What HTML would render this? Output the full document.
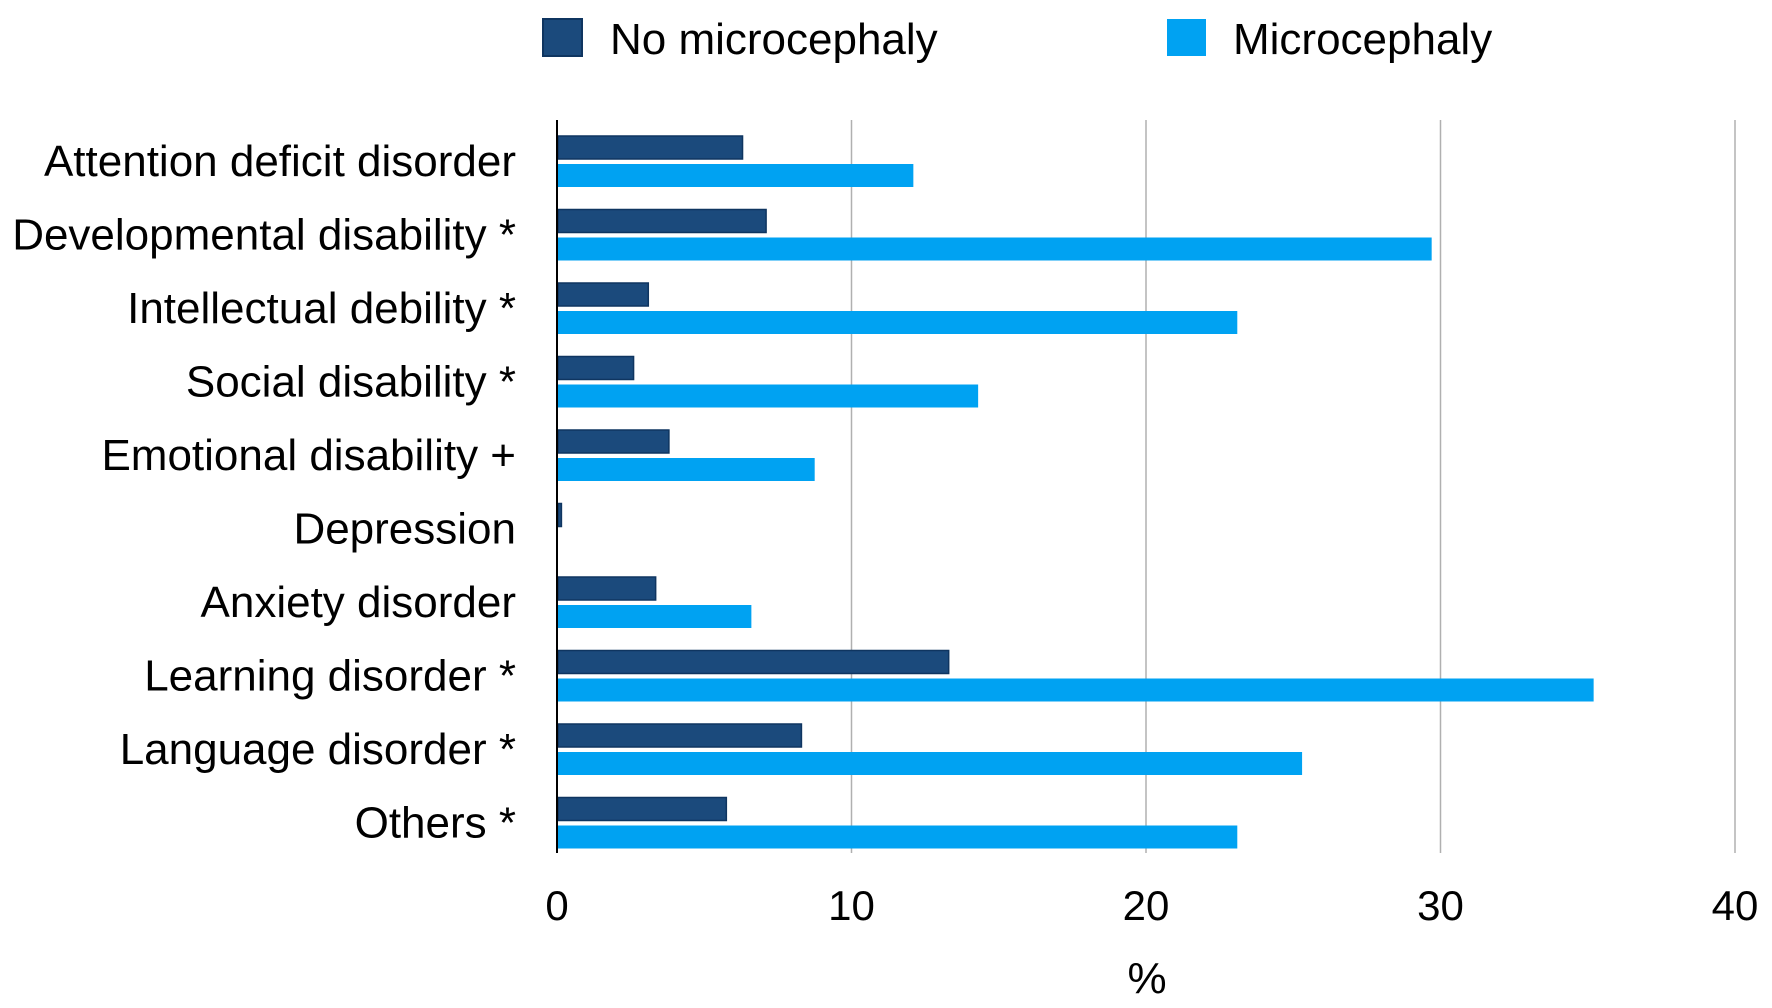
<!DOCTYPE html>
<html><head><meta charset="utf-8"><style>
html,body{margin:0;padding:0;background:#fff;}
svg{display:block;font-family:"Liberation Sans",Arial,sans-serif;}
</style></head><body>
<svg id="chart" width="1772" height="1008" viewBox="0 0 1772 1008">
<g id="grid"></g>
<g id="bars"></g>
<g id="cats"></g>
<g id="ticks"></g>
<line x1="557" y1="120" x2="557" y2="853" stroke="#000" stroke-width="2"/>
<text x="1147" y="993" font-size="44" text-anchor="middle">%</text>
<g>
<g>
<rect x="543" y="19" width="39" height="37" fill="#1b4a7c" stroke="#0f3560" stroke-width="2"/>
<text x="610" y="54" font-size="44">No microcephaly</text>
</g>
<g>
<rect x="1167" y="19" width="39" height="37" fill="#00a2f2"/>
<text x="1233" y="54" font-size="44">Microcephaly</text>
</g>
</g>
</svg>
<script>
const categories = ["Attention deficit disorder","Developmental disability *","Intellectual debility *","Social disability *","Emotional disability +","Depression","Anxiety disorder","Learning disorder *","Language disorder *","Others *"];
const noMicro = [6.3,7.1,3.1,2.6,3.8,0.15,3.35,13.3,8.3,5.75];
const micro = [12.1,29.7,23.1,14.3,8.75,0,6.6,35.2,25.3,23.1];
const ticks = [0,10,20,30,40];

const NS="http://www.w3.org/2000/svg";
const x0=557, pxPer=29.45;
function xs(v){return x0+v*pxPer;}
function yTop(i){return 136+i*73.5;}
function mk(tag,attrs,parent){const e=document.createElementNS(NS,tag);for(const k in attrs)e.setAttribute(k,attrs[k]);parent.appendChild(e);return e;}
const grid=document.getElementById('grid'),bars=document.getElementById('bars'),cats=document.getElementById('cats'),tk=document.getElementById('ticks');
ticks.forEach(t=>{
  if(t>0){const l=mk('line',{x1:xs(t),x2:xs(t),y1:120,y2:853,stroke:'#b0b0b0','stroke-width':1.5},grid);
  
  }
  const tx=mk('text',{x:xs(t),y:920,'font-size':42,'text-anchor':'middle'},tk);
  tx.textContent=t;
  
  
});
categories.forEach((c,i)=>{
  const y=yTop(i);
  const a=mk('rect',{x:x0+1,y:y,width:Math.max(xs(noMicro[i])-x0-1,0),height:23,fill:'#1b4a7c',stroke:'#0f3560','stroke-width':1.5},bars);
  
  
  if(micro[i]>0){const b=mk('rect',{x:x0+1,y:y+28,width:xs(micro[i])-x0-1,height:23,fill:'#00a2f2'},bars);
  
  }
  const t=mk('text',{x:516,y:y+40,'font-size':44,'text-anchor':'end'},cats);
  t.textContent=c;
  
  
});
</script>
</body></html>
